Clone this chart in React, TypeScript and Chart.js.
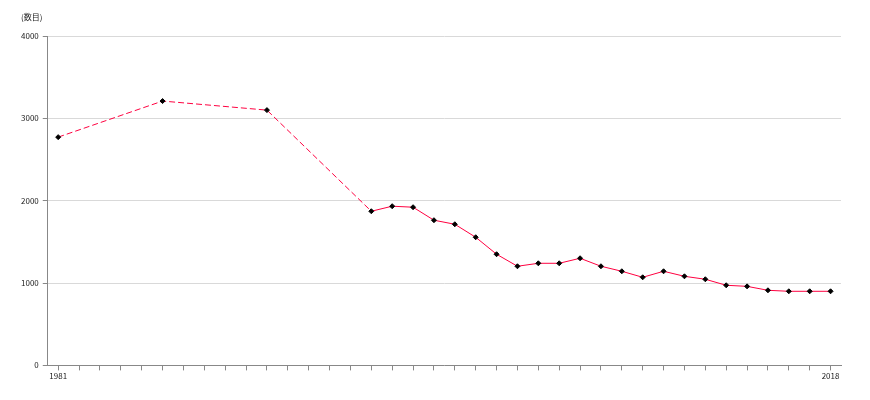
import React, { useEffect, useRef } from "react";
import { Chart, registerables } from "chart.js";

Chart.register(...registerables);

const years: string[] = [];
for (let y = 1981; y <= 2018; y++) years.push(String(y));

const valueYears = [1981, 1986, 1991, 1996, 1997, 1998, 1999, 2000, 2001, 2002, 2003, 2004, 2005, 2006, 2007, 2008, 2009, 2010, 2011, 2012, 2013, 2014, 2015, 2016, 2017, 2018];
const values = [2772, 3210, 3100, 1872, 1933, 1921, 1763, 1714, 1556, 1350, 1204, 1240, 1240, 1301, 1204, 1143, 1070, 1143, 1082, 1046, 973, 960, 912, 900, 900, 900];

const yTitle = "(数目)";
const FONT = "'Noto Sans CJK JP', 'DejaVu Sans', sans-serif";

export default function App() {
  const ref = useRef<HTMLCanvasElement | null>(null);
  useEffect(() => {
    document.body.style.margin = "0";
    const data = years.map((y) => {
      const i = valueYears.indexOf(Number(y));
      return i >= 0 ? values[i] : null;
    });
    const titlePlugin = {
      id: "ytitle",
      afterDraw(chart: any) {
        const ctx = chart.ctx;
        ctx.save();
        ctx.font = `8px ${FONT}`;
        ctx.fillStyle = "#222";
        ctx.textBaseline = "middle";
        ctx.textAlign = "left";
        ctx.fillText(yTitle, 21, 17);
        ctx.restore();
      },
    };
    const chart = new Chart(ref.current!, {
      type: "line",
      data: {
        labels: years,
        datasets: [
          {
            data,
            borderColor: "#ff0040",
            borderWidth: 1,
            spanGaps: true,
            tension: 0,
            pointStyle: "rectRot",
            pointRadius: 2.5,
            pointBackgroundColor: "#000",
            pointBorderColor: "#000",
            pointBorderWidth: 1,
            segment: {
              borderDash: (ctx: any) => (ctx.p0.skip || ctx.p1.skip ? [6, 3] : undefined),
            },
          },
        ],
      },
      options: {
        animation: false,
        responsive: false,
        layout: { padding: { top: 36, right: 29, left: 17, bottom: 18 } },
        plugins: { legend: { display: false }, tooltip: { enabled: false } },
        scales: {
          x: {
            offset: true,
            grid: { offset: false, drawOnChartArea: false, drawTicks: true, tickLength: 5, color: "#888" },
            border: { color: "#888" },
            ticks: {
              autoSkip: false,
              maxRotation: 0,
              padding: 1,
              font: { size: 8, family: FONT },
              color: "#222",
              callback: (_v: any, i: number) => (i === 0 || i === years.length - 1 ? years[i] : ""),
            },
          },
          y: {
            min: 0,
            max: 4000,
            ticks: {
              stepSize: 1000,
              font: { size: 8, family: FONT },
              color: "#222",
              padding: 4,
              callback: (v: any) => String(v),
            },
            grid: { color: "#d9d9d9", tickLength: 5, tickColor: "#888" },
            border: { color: "#888" },
          },
        },
      },
      plugins: [titlePlugin],
    });
    return () => chart.destroy();
  }, []);
  return (
    <div style={{ width: 870, height: 400 }}>
      <canvas ref={ref} width={870} height={400} />
    </div>
  );
}
